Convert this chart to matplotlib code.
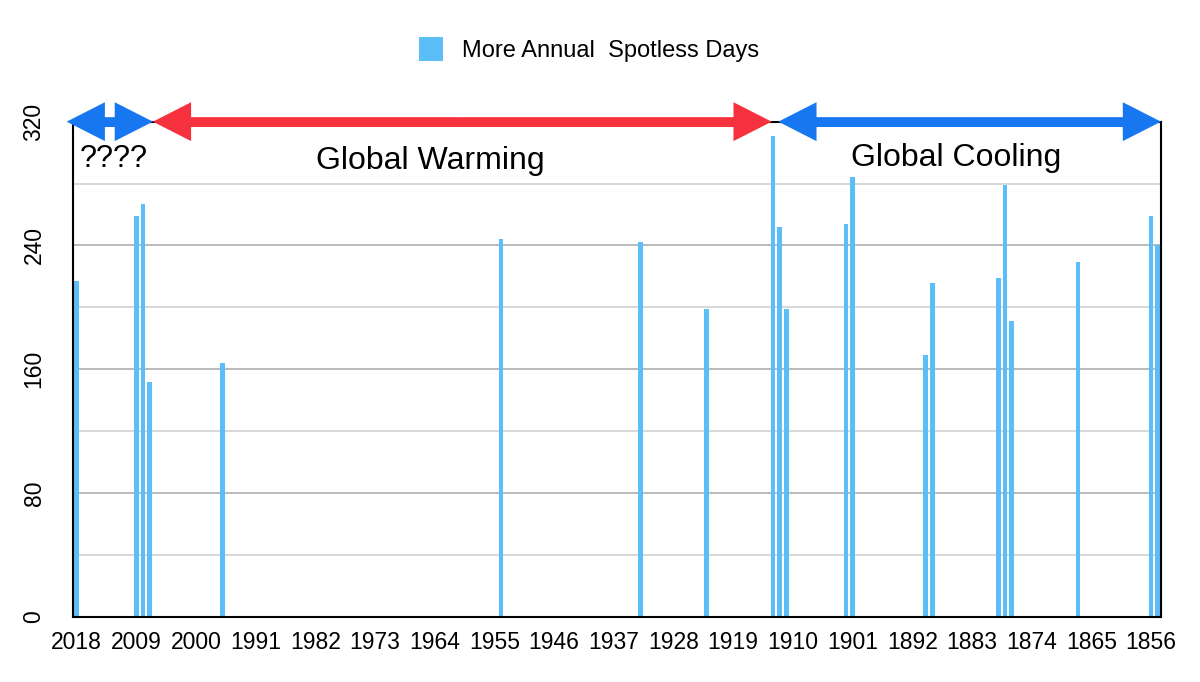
import matplotlib
matplotlib.use("Agg")
from matplotlib import pyplot as plt
from matplotlib.patches import FancyArrowPatch, ArrowStyle, Patch
from matplotlib.ticker import MultipleLocator

plt.rcParams['font.family'] = ['Liberation Sans', 'DejaVu Sans']

# years with many spotless days
years = [2018, 2009, 2008, 2007, 1996, 1954, 1933, 1923, 1913, 1912, 1911,
         1902, 1901, 1890, 1889, 1879, 1878, 1877, 1867, 1856, 1855]
days = [217, 259, 267, 152, 164, 244, 242, 199, 311, 252, 199,
        254, 284, 169, 216, 219, 279, 191, 229, 259, 240]

tick_years = list(range(2018, 1855, -9))

# eras shown as arrows along the top: (start year, end year, colour, label)
eras = [
    (2019.5, 2006.5, '#1677F0', '????'),
    (2006.5, 1913.2, '#F7323F', 'Global Warming'),
    (1912.2, 1854.5, '#1677F0', 'Global Cooling'),
]

bar_color = '#5BBEF8'

fig = plt.figure(figsize=(12, 6.82), dpi=100)
ax = fig.add_axes([0.0611, 0.0957, 0.9064, 0.7259])

ax.bar(years, days, width=0.7, color=bar_color, zorder=3)

ax.set_xlim(2018.5, 1854.5)
ax.set_ylim(0, 320)
ax.set_xticks(tick_years)
ax.set_xticklabels([str(y) for y in tick_years], fontsize=16.5)
ax.yaxis.set_major_locator(MultipleLocator(80))
ax.yaxis.set_minor_locator(MultipleLocator(40))
ax.tick_params(axis='x', length=0, pad=10)
ax.tick_params(axis='y', which='both', length=0, pad=20, labelsize=16.5)
for lab in ax.get_yticklabels():
    lab.set_rotation(90)
    lab.set_va('center')
ax.grid(axis='y', which='major', color='#b4b4b4', lw=1.3, zorder=0)
ax.grid(axis='y', which='minor', color='#d2d2d2', lw=1.2, zorder=0)
for s in ax.spines.values():
    s.set_color('black')
    s.set_linewidth(1.5)
    s.set_zorder(4)

# double-headed arrows: one straight shaft plus a filled head at each end
head_len = 27.5  # points
style = ArrowStyle('Simple', head_length=head_len, head_width=28, tail_width=6.5)
px_per_year = ax.get_position().width * fig.get_figwidth() * fig.dpi / 164
inset = head_len / 72 * fig.dpi / px_per_year * 0.5
for start, end, col, _ in eras:
    mid = (start + end) / 2
    ax.plot([start - inset, end + inset], [320, 320], color=col, lw=6.5,
            solid_capstyle='butt', clip_on=False, zorder=6)
    for tip in (start, end):
        arr = FancyArrowPatch((mid, 320), (tip, 320), arrowstyle=style,
                              mutation_scale=1, color=col, lw=0,
                              shrinkA=0, shrinkB=0, clip_on=False, zorder=6)
        ax.add_patch(arr)

ax.text(2017.6, 296, eras[0][3], fontsize=22, ha='left', va='center')
ax.text(1964.7, 294.5, eras[1][3], fontsize=23, ha='center', va='center')
ax.text(1885.4, 296.5, eras[2][3], fontsize=23, ha='center', va='center')

handle = Patch(facecolor=bar_color, edgecolor='none')
fig.legend([handle], ['More Annual  Spotless Days'], loc='center',
           bbox_to_anchor=(0.491, 0.928), frameon=False, fontsize=17,
           handlelength=1.0, handleheight=1.2, handletextpad=0.8)

fig.savefig('out.png', dpi=100)
